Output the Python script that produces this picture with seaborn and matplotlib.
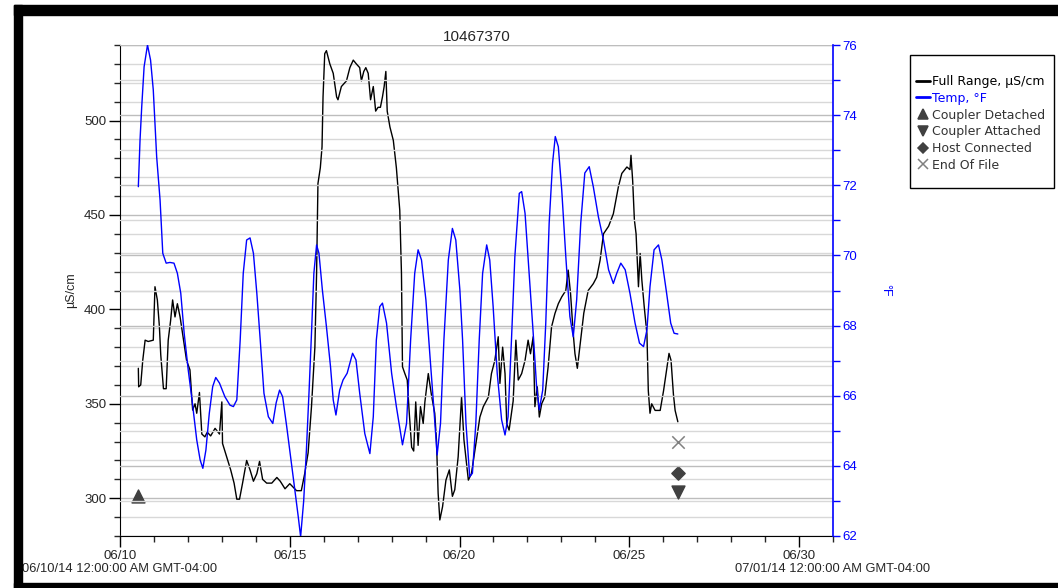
import numpy as np
import pandas as pd
import matplotlib
matplotlib.use("Agg")
import matplotlib.pyplot as plt
import matplotlib.dates as mdates
from matplotlib.lines import Line2D
from matplotlib.patches import Rectangle
from matplotlib.ticker import MultipleLocator
import seaborn as sns

# ---- data (days after 06/10/14 00:00) ----
start = pd.Timestamp("2014-06-10 00:00")
end = pd.Timestamp("2014-07-01 00:00")

cond_days = [0.54, 0.55, 0.61, 0.67, 0.74, 0.83, 0.98, 1.03, 1.10, 1.16, 1.20, 1.28, 1.36, 1.42,
             1.49, 1.55, 1.62, 1.69, 1.77, 1.87, 1.96, 2.06, 2.14, 2.21, 2.26, 2.34, 2.41, 2.50,
             2.57, 2.67, 2.80, 2.93, 3.00, 3.02, 3.14, 3.26, 3.36, 3.44, 3.52, 3.61, 3.73, 3.83,
             3.93, 4.03, 4.11, 4.20, 4.32, 4.47, 4.62, 4.72, 4.86,
             5.00, 5.20, 5.34, 5.44, 5.54, 5.64, 5.74, 5.79, 5.83, 5.90, 5.95, 5.98, 6.03, 6.08,
             6.18, 6.28, 6.38, 6.42, 6.52, 6.67, 6.77, 6.87, 6.96, 7.06, 7.11, 7.18, 7.24, 7.31,
             7.38, 7.46, 7.53, 7.60, 7.67, 7.73, 7.78, 7.83, 7.87, 7.95, 8.05, 8.14, 8.24, 8.29,
             8.32, 8.39, 8.46, 8.52, 8.59, 8.65, 8.71, 8.78, 8.85, 8.93, 8.98, 9.08, 9.17, 9.27,
             9.32, 9.37, 9.42, 9.50, 9.60, 9.70, 9.79, 9.86, 9.96, 10.06, 10.13,
             10.26, 10.35, 10.50, 10.60, 10.70, 10.85, 10.94, 11.04, 11.14, 11.19, 11.27, 11.34,
             11.39, 11.46, 11.58, 11.66, 11.73, 11.83, 11.93, 12.02, 12.09, 12.17, 12.22, 12.29,
             12.35, 12.42, 12.51, 12.61, 12.71, 12.81, 12.91, 13.01, 13.13, 13.20, 13.27, 13.35,
             13.40, 13.47, 13.57, 13.66, 13.79, 13.94, 14.04,
             14.14, 14.24, 14.39, 14.53, 14.68, 14.78, 14.93, 15.02, 15.05, 15.10, 15.15, 15.20,
             15.27, 15.32, 15.37, 15.44, 15.52, 15.56, 15.61, 15.66, 15.76, 15.91, 16.01, 16.10,
             16.17, 16.23, 16.30, 16.35, 16.43]
cond_vals = [368.8, 359, 360, 373, 383.7, 383, 383.7, 412, 405, 391, 376, 358, 358, 383.7,
             394, 405, 396, 403, 396, 384, 373, 368, 346.7, 350, 345, 356, 334, 332.5,
             335, 333, 337, 334, 351, 329, 322, 315, 308, 299.5, 299.5, 308, 320, 315,
             309, 313, 319.5, 310, 308, 308, 311, 309, 305,
             307.7, 304, 304, 313, 324, 348.5, 380, 419, 466.6, 475, 486, 512.5, 535.4, 537,
             530, 525, 512.5, 511, 518, 521, 528, 532, 530, 528, 521, 526, 528, 525,
             511, 518, 505, 507, 507, 512.5, 518, 526, 505, 496.6, 489.5, 475, 452.5, 419,
             369.6, 366, 362.6, 345, 327, 325, 351, 328, 348.5, 339.6, 351, 366, 355, 345,
             331, 302.6, 288.5, 295.5, 309.6, 315, 301, 304.5, 322, 353.6, 331,
             309.6, 313, 331, 343, 348.5, 353.6, 366, 373, 385.5, 360.8, 380, 366,
             339.6, 336, 351.5, 383.7, 362.6, 366, 373, 383.7, 376.5, 385.5, 348.5, 359,
             343, 350, 353.6, 369.6, 390.7, 397.8, 403, 406.6, 410, 420.8, 408.4, 387,
             376.5, 368.8, 384, 398, 410, 413.6, 417,
             426, 440, 444, 450.6, 465, 472, 475.4, 474, 481.6, 468, 447.4, 440,
             412, 429.6, 415.5, 401.4, 387, 357, 345, 350, 346.5, 346.5, 357, 368,
             376.7, 373, 355, 346.5, 340.5]

temp_days = [0.54, 0.59, 0.64, 0.71, 0.81, 0.90, 0.98, 1.08, 1.18, 1.26, 1.36, 1.47, 1.59, 1.69,
             1.79, 1.89, 2.01, 2.11, 2.26, 2.36, 2.44, 2.53, 2.63, 2.73, 2.82, 2.93, 3.09, 3.24,
             3.34, 3.44, 3.54, 3.63, 3.73, 3.83, 3.93, 4.03, 4.13, 4.24, 4.37, 4.50, 4.60, 4.70,
             4.79, 4.91,
             5.00, 5.15, 5.25, 5.32, 5.41, 5.49, 5.57, 5.64, 5.71, 5.79, 5.86, 5.96, 6.08, 6.20,
             6.28, 6.36, 6.47, 6.57, 6.69, 6.85, 6.95, 7.06, 7.21, 7.36, 7.46, 7.55, 7.65, 7.73,
             7.85, 8.00, 8.14, 8.32, 8.44, 8.56, 8.68, 8.78, 8.88, 9.01, 9.13, 9.24, 9.34, 9.44,
             9.54, 9.67, 9.79, 9.89, 10.01,
             10.09, 10.19, 10.30, 10.38, 10.48, 10.58, 10.68, 10.80, 10.89, 10.99, 11.11, 11.24,
             11.34, 11.43, 11.53, 11.63, 11.76, 11.83, 11.93, 12.05, 12.17, 12.27, 12.35, 12.45,
             12.54, 12.64, 12.74, 12.82, 12.91, 13.01, 13.13, 13.25, 13.35, 13.45, 13.57, 13.69,
             13.82, 13.94, 14.09,
             14.24, 14.39, 14.53, 14.63, 14.75, 14.88, 15.02, 15.17, 15.30, 15.42, 15.52, 15.61,
             15.73, 15.86, 15.96, 16.10, 16.22, 16.32, 16.43]
temp_vals = [71.96, 73.29, 74.24, 75.38, 76.0, 75.57, 74.72, 72.81, 71.58, 70.06, 69.78, 69.8, 69.78, 69.49,
             68.92, 67.78, 66.73, 65.97, 64.74, 64.17, 63.93, 64.45, 65.5, 66.26, 66.52, 66.36, 65.97, 65.73,
             65.69, 65.88, 67.59, 69.49, 70.44, 70.5, 70.06, 68.92, 67.59, 66.07, 65.4, 65.21, 65.8, 66.16,
             65.97, 65.12,
             64.45, 63.31, 62.55, 61.98, 63.0, 64.45, 66.16, 67.78, 69.49, 70.3, 70.06, 69.02, 67.97, 66.83,
             65.88, 65.45, 66.16, 66.45, 66.64, 67.21, 67.02, 66.07, 64.92, 64.35, 65.4, 67.59, 68.54, 68.64,
             68.07, 66.64, 65.69, 64.6, 65.21, 67.59, 69.49, 70.16, 69.87, 68.73, 67.12, 65.69, 64.31, 65.21,
             67.59, 69.87, 70.77, 70.44, 69.02,
             67.59, 65.21, 63.69, 63.79, 65.21, 67.59, 69.49, 70.3, 69.87, 68.54, 66.64, 65.31,
             64.88, 65.4, 67.59, 69.97, 71.77, 71.82, 71.2, 69.49, 67.78, 66.26, 65.6, 66.16,
             68.07, 70.92, 72.63, 73.39, 73.1, 71.87, 69.97, 68.26, 67.68, 68.73, 70.92, 72.35,
             72.53, 71.96, 71.1,
             70.44, 69.59, 69.2, 69.49, 69.78, 69.59, 68.92, 68.07, 67.5, 67.4, 67.88, 69.11,
             70.16, 70.3, 69.87, 68.92, 68.07, 67.78, 67.76]

# event markers (plotted against the µS/cm axis)
event_names = ["Coupler Detached", "Coupler Attached", "Host Connected", "End Of File"]
event_days = [0.54, 16.44, 16.44, 16.44]
event_vals = [301, 303.5, 313.5, 330]
event_markers = ["^", "v", "D", "x"]
event_sizes = [85, 85, 45, 80]

cond = pd.DataFrame({"time": start + pd.to_timedelta(cond_days, unit="D"), "value": cond_vals})
temp = pd.DataFrame({"time": start + pd.to_timedelta(temp_days, unit="D"), "value": temp_vals})
events = pd.DataFrame({"time": start + pd.to_timedelta(event_days, unit="D"),
                       "value": event_vals, "name": event_names})

# ---- figure ----
sns.set_style("white")
plt.rcParams["font.family"] = ["Liberation Sans", "DejaVu Sans"]

fig = plt.figure(figsize=(10.58, 5.88), dpi=100)
ax = fig.add_axes([120 / 1058, 1 - 536 / 588, 713 / 1058, 491 / 588])
ax2 = ax.twinx()

# grid lines for both scales
for v in np.arange(280, 541, 10):
    ax.axhline(v, color="#bdbdbd" if v % 50 == 0 else "#d8d8d8", lw=1, zorder=0)
for v in np.arange(62, 77, 1):
    ax2.axhline(v, color="#bdbdbd" if v % 2 == 0 else "#d8d8d8", lw=1, zorder=0)

sns.lineplot(data=cond, x="time", y="value", ax=ax, color="black", lw=1.0, zorder=3)
sns.lineplot(data=temp, x="time", y="value", ax=ax2, color="#0000ff", lw=1.0, zorder=3)

mk_colors = ["#404040", "#404040", "#404040", "#808080"]
for i, row in events.iterrows():
    sns.scatterplot(x=[row["time"]], y=[row["value"]], ax=ax, marker=event_markers[i],
                    s=event_sizes[i], color=mk_colors[i], edgecolor=mk_colors[i],
                    linewidth=1.1, zorder=4)

ax.set_xlim(start, end)
ax.set_ylim(280, 540)
ax2.set_ylim(62, 76)

ax.xaxis.set_major_locator(mdates.DayLocator(bymonthday=[10, 15, 20, 25, 30]))
ax.xaxis.set_minor_locator(mdates.DayLocator())
ax.xaxis.set_major_formatter(mdates.DateFormatter("%m/%d"))
ax.yaxis.set_major_locator(MultipleLocator(50))
ax.yaxis.set_minor_locator(MultipleLocator(10))
ax2.yaxis.set_major_locator(MultipleLocator(2))
ax2.yaxis.set_minor_locator(MultipleLocator(1))

ax.tick_params(axis="both", which="major", length=8, width=1, labelsize=9.5, color="black",
               left=True, bottom=True, pad=2)
ax.tick_params(axis="both", which="minor", length=4, width=1, left=True, bottom=True)
ax2.tick_params(axis="y", which="major", length=5, width=1, labelsize=9.5, colors="#0000ff",
                right=True, pad=2)
ax2.tick_params(axis="y", which="minor", length=5, width=1, color="#0000ff", right=True)

for a in (ax, ax2):
    a.spines["top"].set_visible(False)
ax.spines["right"].set_visible(False)
ax.spines["left"].set_color("black")
ax.spines["bottom"].set_color("black")
ax2.spines["left"].set_visible(False)
ax2.spines["bottom"].set_visible(False)
ax2.spines["right"].set_color("#0000ff")
ax2.spines["right"].set_linewidth(1.2)

ax.set_xlabel("")
ax.set_ylabel("µS/cm", fontsize=9, labelpad=5)
ax2.set_ylabel("°F", fontsize=9, color="#0000ff", rotation=270, labelpad=24)
ax.set_title("10467370", fontsize=11, pad=3)

fig.text(22 / 1058, 1 - 569 / 588, "06/10/14 12:00:00 AM GMT-04:00", fontsize=9.3, va="center", ha="left")
fig.text(735 / 1058, 1 - 569 / 588, "07/01/14 12:00:00 AM GMT-04:00", fontsize=9.3, va="center", ha="left")

# legend: frame drawn by hand, entries without frame
fig.patches.append(Rectangle((910 / 1058, 1 - 188 / 588), 144 / 1058, 133 / 588,
                             transform=fig.transFigure, fill=False, edgecolor="black", lw=1))
handles = [Line2D([], [], color="black", lw=2),
           Line2D([], [], color="#0000ff", lw=2)]
for i in range(len(event_names)):
    handles.append(Line2D([], [], ls="", marker=event_markers[i], color=mk_colors[i],
                          markersize=7 if event_markers[i] != "D" else 5.5, mew=1.1))
labels = ["Full Range, µS/cm", "Temp, °F"] + event_names
leg = fig.legend(handles, labels, loc="upper left", bbox_to_anchor=(916 / 1058, 1 - 75 / 588),
                 prop={"family": "DejaVu Sans", "size": 9}, frameon=False,
                 handlelength=1.15, handletextpad=0.15, labelspacing=0.3, borderpad=0,
                 borderaxespad=0)
for t, c in zip(leg.get_texts(), ["black", "#0000ff", "#333333", "#333333", "#333333", "#333333"]):
    t.set_color(c)

# black frame around the picture
fig.patches.append(Rectangle((14 / 1058, 1 - 15 / 588), 1, 10 / 588, transform=fig.transFigure,
                             color="black", zorder=10))
fig.patches.append(Rectangle((14 / 1058, 0), 8 / 1058, 1 - 5 / 588, transform=fig.transFigure,
                             color="black", zorder=10))
fig.patches.append(Rectangle((14 / 1058, 0), 1, 5 / 588, transform=fig.transFigure,
                             color="black", zorder=10))

fig.savefig("out.png", dpi=100)
